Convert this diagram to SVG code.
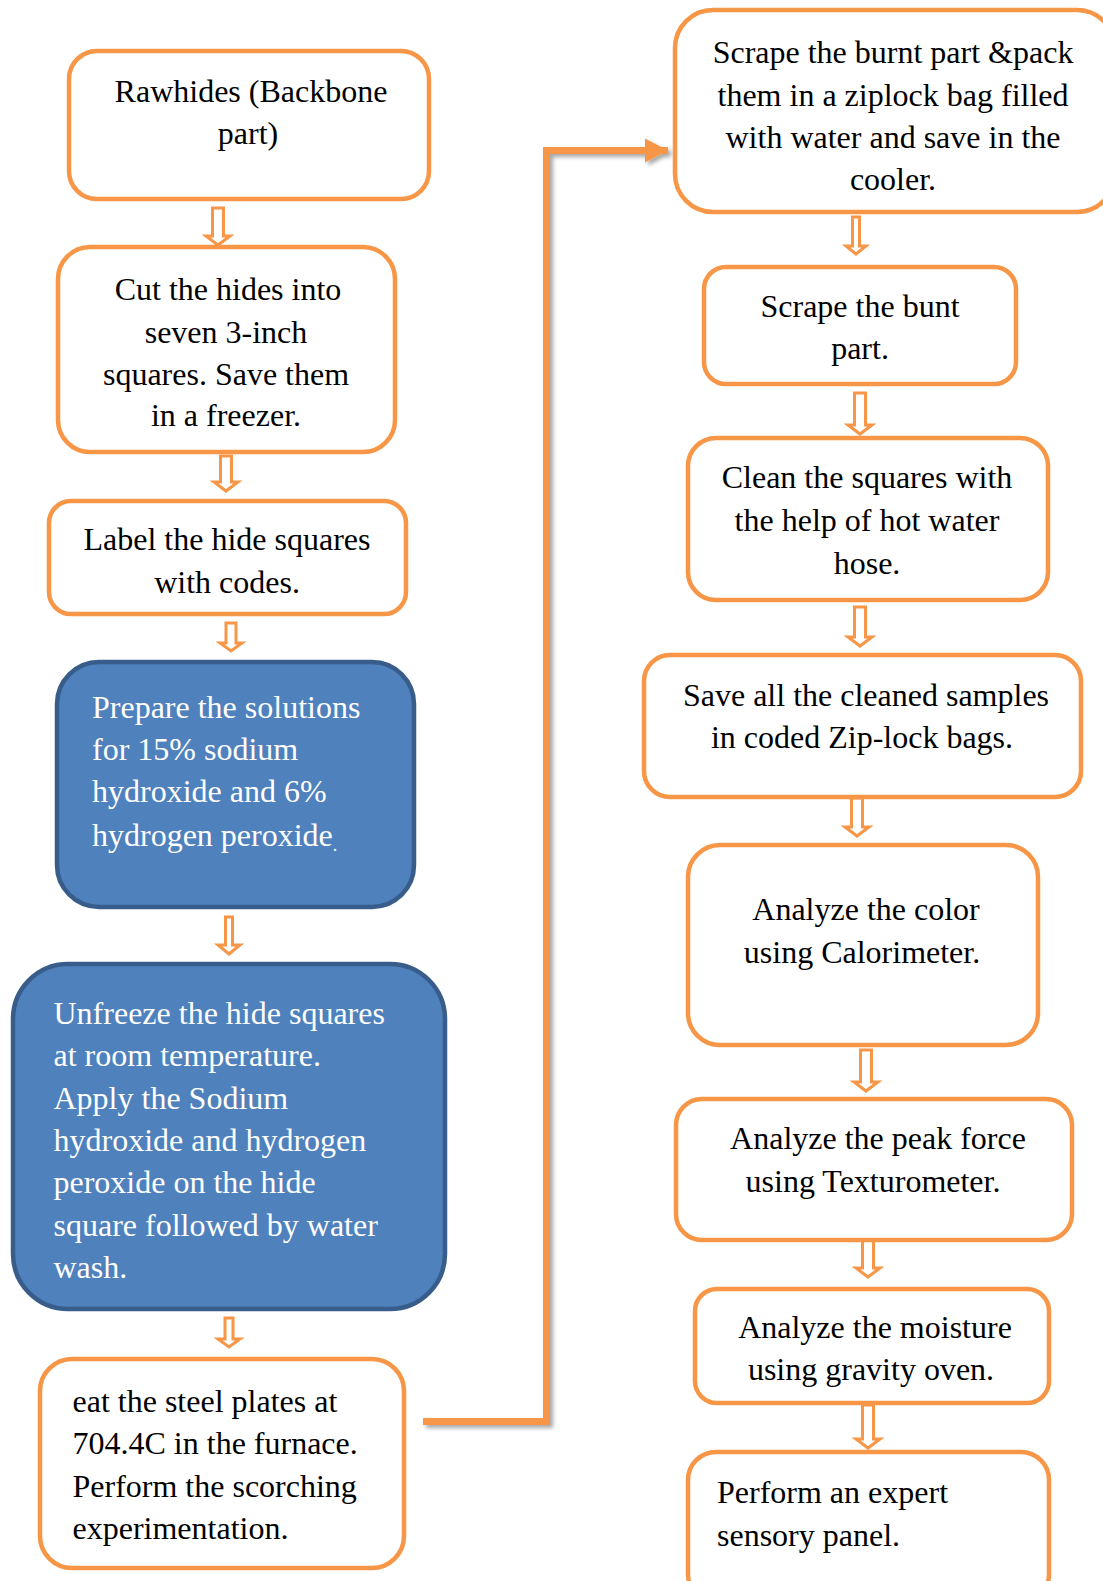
<svg xmlns="http://www.w3.org/2000/svg" width="1103" height="1581" viewBox="0 0 1103 1581">
<defs>
<filter id="sh" x="-10%" y="-10%" width="130%" height="130%">
<feGaussianBlur in="SourceAlpha" stdDeviation="2"/>
<feOffset dx="3" dy="3" result="o"/>
<feComponentTransfer><feFuncA type="linear" slope="0.35"/></feComponentTransfer>
<feMerge><feMergeNode/><feMergeNode in="SourceGraphic"/></feMerge>
</filter>
<marker id="ah" markerUnits="userSpaceOnUse" markerWidth="30" markerHeight="30" refX="23" refY="12" orient="auto" overflow="visible">
<path d="M0,0 L23,12 L0,24 Z" fill="#F79646"/>
</marker>
</defs>
<style>
.ob{fill:#fff;stroke:#F79646;stroke-width:4.5}
.bb{fill:#4F81BD;stroke:#385D8A;stroke-width:4.5}
.t{font-family:"Liberation Serif","Times New Roman",serif;font-size:32px;fill:#000}
.w{fill:#fff}
.c{text-anchor:middle}
.ar{fill:#fff;stroke:#F79646;stroke-width:3;stroke-linejoin:miter}
.cn{fill:none;stroke:#F79646;stroke-width:7}
</style>
<rect width="1103" height="1581" fill="#fff"/>

<g id="connectors">
<path class="cn" filter="url(#sh)" d="M423,1421.5 H546.5 V150.5 H668" marker-end="url(#ah)"/>
<path class="ar" d="M212.5,208 H223.5 V236 H230 L218,245 L206,236 H212.5 Z"/>
<path class="ar" d="M220.5,456 H231.5 V482 H238 L226,491 L214,482 H220.5 Z"/>
<path class="ar" d="M226,623 H236 V643 H242 L231,651 L220,643 H226 Z"/>
<path class="ar" d="M225.5,917 H232.5 V945 H240 L229,954 L218,945 H225.5 Z"/>
<path class="ar" d="M225,1318 H233 V1339 H240 L229,1347 L218,1339 H225 Z"/>
<path class="ar" d="M852.5,217 H859.5 V246 H866 L856,254 L846,246 H852.5 Z"/>
<path class="ar" d="M854.5,393 H865.5 V425 H872 L860,434 L848,425 H854.5 Z"/>
<path class="ar" d="M854.5,607 H865.5 V637 H872 L860,646 L848,637 H854.5 Z"/>
<path class="ar" d="M851.5,798 H862.5 V827 H869 L857,836 L845,827 H851.5 Z"/>
<path class="ar" d="M860.5,1050 H871.5 V1082 H878 L866,1091 L854,1082 H860.5 Z"/>
<path class="ar" d="M862.5,1237 H873.5 V1268 H880 L868,1277 L856,1268 H862.5 Z"/>
<path class="ar" d="M862.5,1405 H873.5 V1439 H880 L868,1448 L856,1439 H862.5 Z"/>
</g>

<g id="n1"><rect class="ob" x="69" y="51" width="360" height="148" rx="28"/>
<text class="t c" x="251" y="102">Rawhides (Backbone</text>
<text class="t c" x="248" y="144">part)</text></g>

<g id="n2"><rect class="ob" x="58" y="247" width="337" height="205" rx="32"/>
<text class="t c" x="228" y="300">Cut the hides into</text>
<text class="t c" x="226" y="343">seven 3-inch</text>
<text class="t c" x="226" y="385">squares. Save them</text>
<text class="t c" x="226" y="426">in a freezer.</text></g>

<g id="n3"><rect class="ob" x="49" y="501" width="357" height="113" rx="22"/>
<text class="t c" x="227" y="550">Label the hide squares</text>
<text class="t c" x="227" y="593">with codes.</text></g>

<g id="n4"><rect class="bb" x="57" y="662" width="357" height="245" rx="42"/>
<text class="t w" x="92" y="718">Prepare the solutions</text>
<text class="t w" x="92" y="760">for 15% sodium</text>
<text class="t w" x="92" y="802">hydroxide and 6%</text>
<text class="t w" x="92" y="846">hydrogen peroxide<tspan font-size="18" dy="5">.</tspan></text></g>

<g id="n5"><rect class="bb" x="13" y="964" width="432" height="345" rx="55"/>
<text class="t w" x="53.5" y="1024">Unfreeze the hide squares</text>
<text class="t w" x="53.5" y="1066">at room temperature.</text>
<text class="t w" x="53.5" y="1109">Apply the Sodium</text>
<text class="t w" x="53.5" y="1151">hydroxide and hydrogen</text>
<text class="t w" x="53.5" y="1193">peroxide on the hide</text>
<text class="t w" x="53.5" y="1236">square followed by water</text>
<text class="t w" x="53.5" y="1278">wash.</text></g>

<g id="n6"><rect class="ob" x="40" y="1359" width="364" height="209" rx="32"/>
<text class="t" x="72.5" y="1412">eat the steel plates at</text>
<text class="t" x="72.5" y="1454">704.4C in the furnace.</text>
<text class="t" x="72.5" y="1497">Perform the scorching</text>
<text class="t" x="72.5" y="1539">experimentation.</text></g>

<g id="n7"><rect class="ob" x="675" y="10" width="440" height="202" rx="38"/>
<text class="t c" x="893" y="63">Scrape the burnt part &amp;pack</text>
<text class="t c" x="893" y="106">them in a ziplock bag filled</text>
<text class="t c" x="893" y="148">with water and save in the</text>
<text class="t c" x="893" y="190">cooler.</text></g>

<g id="n8"><rect class="ob" x="704" y="267" width="312" height="117" rx="22"/>
<text class="t c" x="860" y="317">Scrape the bunt</text>
<text class="t c" x="860" y="359">part.</text></g>

<g id="n9"><rect class="ob" x="688" y="438" width="360" height="162" rx="28"/>
<text class="t c" x="867" y="488">Clean the squares with</text>
<text class="t c" x="867" y="531">the help of hot water</text>
<text class="t c" x="867" y="574">hose.</text></g>

<g id="n10"><rect class="ob" x="644" y="655" width="437" height="142" rx="26"/>
<text class="t c" x="866" y="706">Save all the cleaned samples</text>
<text class="t c" x="862" y="748">in coded Zip-lock bags.</text></g>

<g id="n11"><rect class="ob" x="688" y="845" width="350" height="200" rx="32"/>
<text class="t c" x="866" y="920">Analyze the color</text>
<text class="t c" x="862" y="963">using Calorimeter.</text></g>

<g id="n12"><rect class="ob" x="676" y="1099" width="396" height="141" rx="26"/>
<text class="t c" x="878" y="1149">Analyze the peak force</text>
<text class="t c" x="873" y="1192">using Texturometer.</text></g>

<g id="n13"><rect class="ob" x="695" y="1289" width="354" height="114" rx="22"/>
<text class="t c" x="875" y="1338">Analyze the moisture</text>
<text class="t c" x="871" y="1380">using gravity oven.</text></g>

<g id="n14"><rect class="ob" x="688" y="1452" width="361" height="150" rx="28"/>
<text class="t" x="717" y="1503">Perform an expert</text>
<text class="t" x="717" y="1546">sensory panel.</text></g>
</svg>
